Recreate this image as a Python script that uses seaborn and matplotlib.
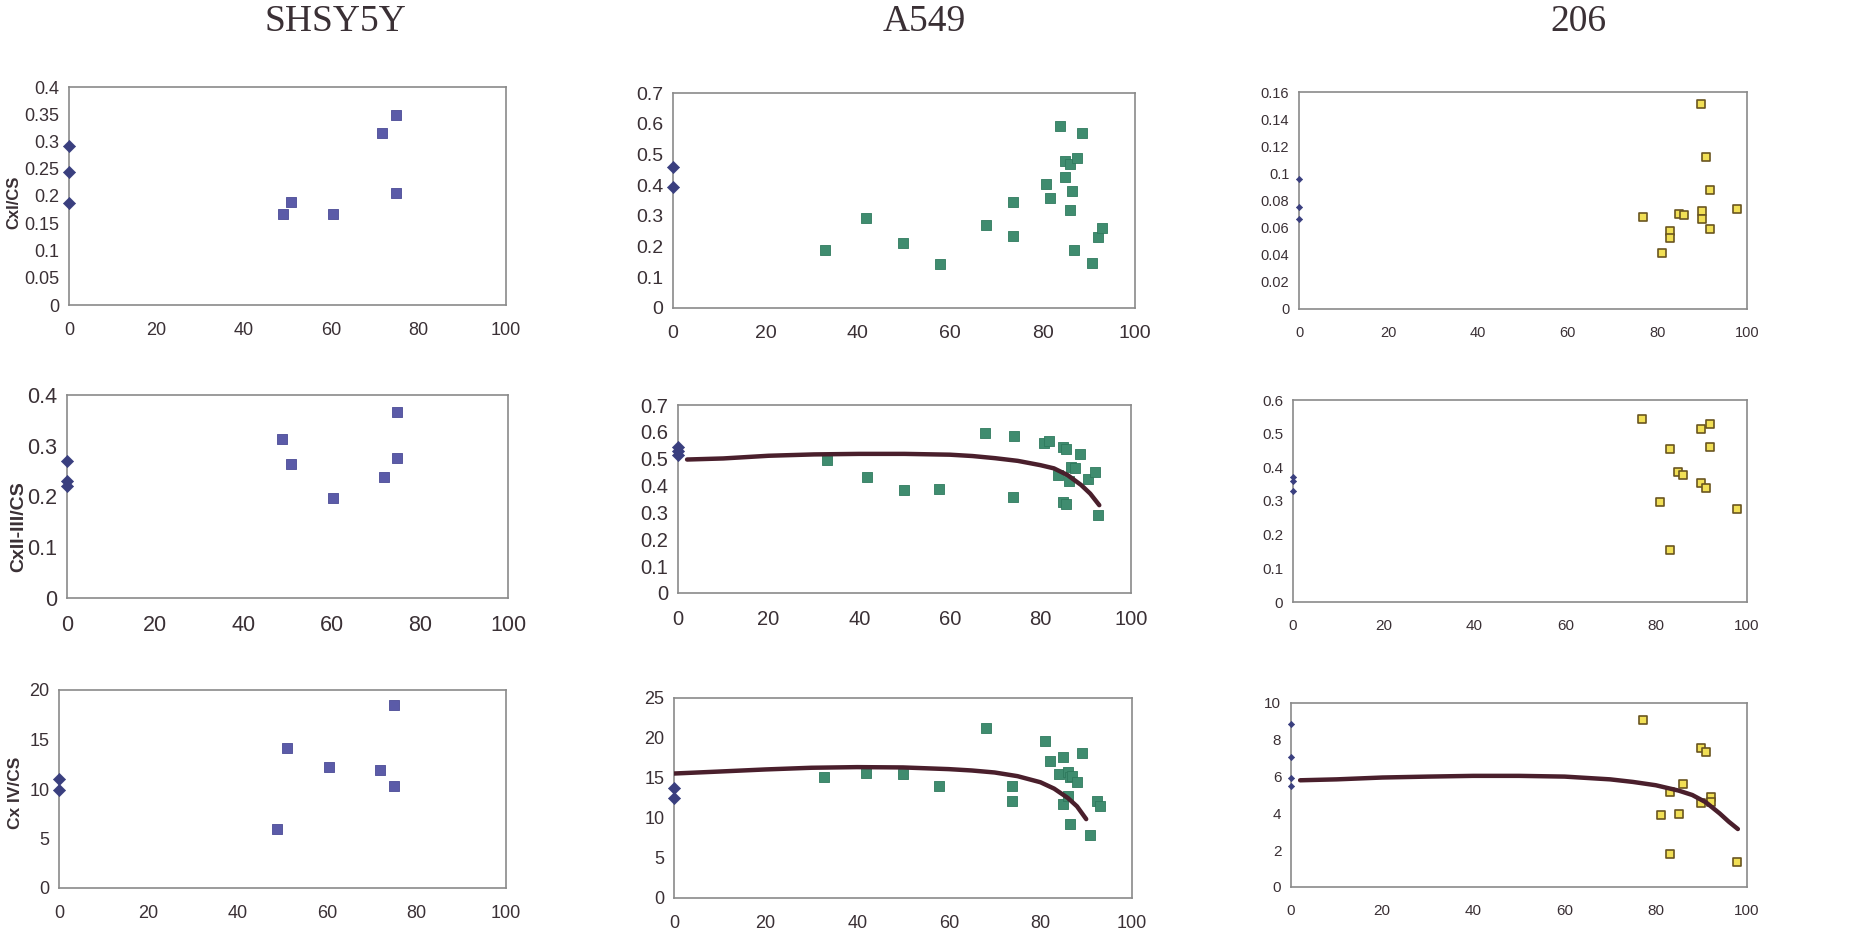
import numpy as np
import pandas as pd
import seaborn as sns
import matplotlib
matplotlib.use("Agg")
import matplotlib.pyplot as plt
from matplotlib.ticker import FuncFormatter, MultipleLocator

# ---------------- data ----------------
cell_lines = ["SHSY5Y", "A549", "206"]
row_labels = ["CxI/CS", "CxII-III/CS", "Cx IV/CS"]

# SHSY5Y
shsy_c1_ctrl = [0.291, 0.244, 0.187]
shsy_c1_x = [49.0, 50.7, 60.4, 71.7, 74.8, 74.8]
shsy_c1_y = [0.167, 0.189, 0.167, 0.315, 0.348, 0.206]

shsy_c23_ctrl = [0.270, 0.230, 0.220]
shsy_c23_x = [48.8, 50.9, 60.3, 71.8, 74.9, 74.9]
shsy_c23_y = [0.313, 0.264, 0.197, 0.239, 0.366, 0.275]

shsy_c4_ctrl = [10.99, 9.85]
shsy_c4_x = [48.8, 51.0, 60.5, 71.9, 75.0, 75.0]
shsy_c4_y = [5.92, 14.12, 12.24, 11.87, 18.52, 10.29]

# A549
a549_c1_ctrl = [0.460, 0.395]
a549_c1_x = [32.8, 41.8, 49.7, 57.8, 67.8, 73.7, 73.7, 80.8, 81.7, 83.7, 84.8,
             84.8, 85.9, 86.3, 85.9, 87.5, 86.9, 88.5, 90.6, 91.9, 92.9]
a549_c1_y = [0.188, 0.294, 0.212, 0.142, 0.270, 0.344, 0.236, 0.404, 0.357, 0.594, 0.428,
             0.477, 0.468, 0.381, 0.320, 0.487, 0.188, 0.570, 0.147, 0.230, 0.259]

a549_c23_ctrl = [0.545, 0.530, 0.515]
a549_c23_x = [32.8, 41.8, 49.8, 57.7, 67.7, 74.1, 74.0, 80.9, 81.9, 84.9, 85.6,
              83.9, 84.9, 85.6, 86.4, 86.7, 87.6, 88.7, 90.6, 92.0, 92.8]
a549_c23_y = [0.497, 0.431, 0.383, 0.389, 0.597, 0.584, 0.358, 0.560, 0.567, 0.542, 0.536,
              0.440, 0.337, 0.332, 0.418, 0.470, 0.464, 0.516, 0.426, 0.450, 0.291]
a549_c23_fit_x = [2, 10, 20, 30, 40, 50, 60, 65, 70, 75, 80, 83, 86, 89, 91, 93]
a549_c23_fit_y = [0.497, 0.501, 0.511, 0.516, 0.518, 0.518, 0.515, 0.510, 0.502, 0.492,
                  0.476, 0.464, 0.439, 0.402, 0.370, 0.327]

a549_c4_ctrl = [13.72, 12.46]
a549_c4_x = [32.8, 42.0, 50.0, 57.9, 68.1, 73.8, 73.8, 80.9, 82.0, 84.1, 84.9,
             84.9, 86.0, 86.0, 86.5, 87.0, 86.5, 88.0, 89.0, 90.8, 92.3, 93.0]
a549_c4_y = [15.18, 15.65, 15.44, 13.97, 21.31, 14.05, 12.12, 19.63, 17.16, 15.48, 17.58,
             11.74, 15.73, 12.79, 15.14, 15.23, 9.27, 14.47, 18.12, 7.84, 12.16, 11.54]
a549_c4_fit_x = [0, 10, 20, 30, 40, 50, 60, 65, 70, 75, 80, 83, 86, 88, 90]
a549_c4_fit_y = [15.56, 15.81, 16.07, 16.28, 16.36, 16.32, 16.11, 15.94, 15.69, 15.23,
                 14.47, 13.67, 12.50, 11.45, 9.86]

# 206
c206_c1_ctrl = [0.096, 0.075, 0.066]
c206_c1_x = [76.8, 81.0, 82.9, 82.9, 84.8, 85.9, 89.8, 89.9, 89.9, 90.9, 91.8, 91.8, 97.8]
c206_c1_y = [0.0682, 0.0415, 0.0577, 0.052, 0.0702, 0.069, 0.151, 0.0724, 0.0665,
             0.112, 0.0876, 0.0587, 0.0734]

c206_c23_ctrl = [0.370, 0.360, 0.331]
c206_c23_x = [76.9, 80.9, 83.0, 83.0, 84.9, 85.9, 89.8, 89.8, 90.9, 91.8, 91.8, 97.8]
c206_c23_y = [0.545, 0.297, 0.454, 0.155, 0.387, 0.378, 0.514, 0.352, 0.340, 0.528, 0.459, 0.276]

c206_c4_ctrl = [8.85, 7.09, 5.95, 5.51]
c206_c4_x = [77.1, 81.1, 83.1, 83.1, 85.1, 86.0, 90.0, 91.1, 90.0, 92.0, 92.0, 97.9]
c206_c4_y = [9.07, 3.89, 5.18, 1.80, 3.98, 5.60, 7.56, 7.36, 4.58, 4.87, 4.60, 1.35]
c206_c4_fit_x = [2, 10, 20, 30, 40, 50, 60, 70, 75, 80, 85, 88, 91, 94, 96, 98]
c206_c4_fit_y = [5.80, 5.85, 5.95, 6.00, 6.04, 6.04, 6.00, 5.85, 5.71, 5.53, 5.24, 5.00,
                 4.60, 4.00, 3.55, 3.15]

# ---------------- style ----------------
sns.set_theme(style="white")
plt.rcParams["font.family"] = ["Liberation Sans Narrow", "Liberation Sans", "DejaVu Sans"]

W, H = 1865, 932
fig = plt.figure(figsize=(W / 100, H / 100), dpi=100)
fig.patch.set_facecolor("white")

# pixel boxes (left, right, top, bottom)
boxes = [
    [(69, 506, 87, 305), (673, 1135, 93, 308), (1299, 1747, 92, 309)],
    [(67, 508, 395, 598), (678, 1131, 405, 593), (1293, 1747, 400, 602)],
    [(59, 506, 690, 888), (674, 1132, 698, 898), (1291, 1747, 703, 887)],
]

ylims = [[(0, 0.4, 0.05), (0, 0.7, 0.1), (0, 0.16, 0.02)],
         [(0, 0.4, 0.1), (0, 0.7, 0.1), (0, 0.6, 0.1)],
         [(0, 20, 5), (0, 25, 5), (0, 10, 2)]]

ctrl = [[shsy_c1_ctrl, a549_c1_ctrl, c206_c1_ctrl],
        [shsy_c23_ctrl, a549_c23_ctrl, c206_c23_ctrl],
        [shsy_c4_ctrl, a549_c4_ctrl, c206_c4_ctrl]]
xs = [[shsy_c1_x, a549_c1_x, c206_c1_x],
      [shsy_c23_x, a549_c23_x, c206_c23_x],
      [shsy_c4_x, a549_c4_x, c206_c4_x]]
ys = [[shsy_c1_y, a549_c1_y, c206_c1_y],
      [shsy_c23_y, a549_c23_y, c206_c23_y],
      [shsy_c4_y, a549_c4_y, c206_c4_y]]
fits = {(1, 1): (a549_c23_fit_x, a549_c23_fit_y),
        (2, 1): (a549_c4_fit_x, a549_c4_fit_y),
        (2, 2): (c206_c4_fit_x, c206_c4_fit_y)}

col_colors = ["#5b5ba8", "#3f8c6f", "#f1df55"]
col_edges = ["#4a4a96", "#2f7a5e", "#6a5520"]
ctrl_color = "#3a3f7f"
fit_color = "#4a1f2c"
sq_size = [46, 46, 34]
ctrl_size = [38, 38, 10]
tick_fs = [[13, 14, 10.5], [15.5, 14.5, 11], [13, 13, 11]]
lab_fs = [12, 14, 12.5]
lab_pos = [(-0.108, 0.47), (-0.09, 0.35), (-0.08, 0.48)]

fmt = FuncFormatter(lambda v, p: ("%g" % round(v, 4)))

for r in range(3):
    for c in range(3):
        l, rr, t, b = boxes[r][c]
        ax = fig.add_axes([l / W, 1 - b / H, (rr - l) / W, (b - t) / H])
        ax.set_facecolor("white")
        # controls (diamonds at x = 0)
        cd = pd.DataFrame({"x": [0.0] * len(ctrl[r][c]), "y": ctrl[r][c]})
        sns.scatterplot(data=cd, x="x", y="y", ax=ax, marker="D", s=ctrl_size[c],
                        color=ctrl_color, edgecolor=ctrl_color, linewidth=0.5,
                        clip_on=False, zorder=4)
        # samples (squares)
        sd = pd.DataFrame({"x": xs[r][c], "y": ys[r][c]})
        sns.scatterplot(data=sd, x="x", y="y", ax=ax, marker="s", s=sq_size[c],
                        color=col_colors[c], edgecolor=col_edges[c],
                        linewidth=1.2 if c == 2 else 0.6, zorder=3)
        if (r, c) in fits:
            fx, fy = fits[(r, c)]
            sns.lineplot(x=fx, y=fy, ax=ax, color=fit_color, linewidth=3.2,
                         sort=False, zorder=5)
        lo, hi, step = ylims[r][c]
        ax.set_xlim(0, 100)
        ax.set_ylim(lo, hi)
        ax.xaxis.set_major_locator(MultipleLocator(20))
        ax.yaxis.set_major_locator(MultipleLocator(step))
        ax.yaxis.set_major_formatter(fmt)
        ax.xaxis.set_major_formatter(fmt)
        for s in ax.spines.values():
            s.set_color("#8a8a8a")
            s.set_linewidth(1.2)
        ax.tick_params(axis="both", direction="out", length=3, width=1,
                       color="#8a8a8a", labelcolor="#3a3035",
                       labelsize=tick_fs[r][c], pad=4)
        ax.tick_params(axis="x", pad=9)
        ax.set_xlabel("")
        if c == 0:
            ax.set_ylabel(row_labels[r], fontsize=lab_fs[r], fontweight="bold",
                          color="#3a3035", family=["Liberation Sans", "DejaVu Sans"])
            ax.yaxis.set_label_coords(*lab_pos[r])
        else:
            ax.set_ylabel("")

title_x = [335, 924, 1578]
for name, tx in zip(cell_lines, title_x):
    fig.text(tx / W, 1 - 22 / H, name, ha="center", va="center", fontsize=27,
             family=["Liberation Serif", "DejaVu Serif"], color="#3a3035")

fig.savefig("out.png", dpi=100, facecolor="white")
